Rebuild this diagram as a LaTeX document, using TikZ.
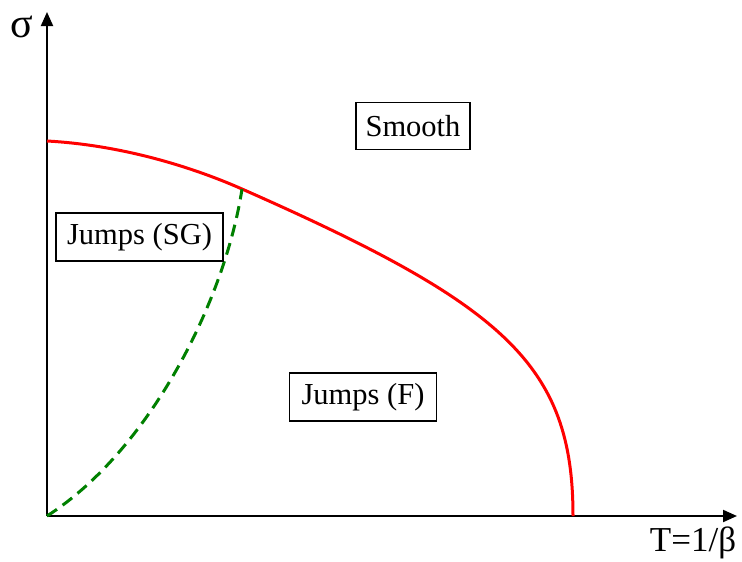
\documentclass[tikz,border=0pt]{standalone}
\usepackage{fontspec}
\setmainfont{Liberation Serif}
\usetikzlibrary{arrows.meta}
\begin{document}
\begin{tikzpicture}[x=1pt,y=-1pt,
  axis/.style={line width=2pt,-{Triangle[length=14pt,width=12pt]}},
  boxlabel/.style={draw,line width=1.2pt,inner sep=0pt,font=\fontsize{30.5}{34}\selectfont},
  axlabel/.style={inner sep=0pt,font=\fontsize{35}{38}\selectfont},
  redline/.style={red,line width=3pt},
  greenline/.style={green!50!black,line width=3pt,dash pattern=on 12pt off 7pt}]
\useasboundingbox (0,0) rectangle (742,562);
\coordinate (O) at (47,516);
\coordinate (ytip) at (47,12);
\coordinate (xtip) at (737,516);
\coordinate (r0) at (47,141);
\coordinate (r1) at (573,516);
\coordinate (meet) at (242,189);
\draw[axis] (O) -- (ytip);
\draw[axis] (O) -- (xtip);
\node[axlabel,font=\fontsize{42}{46}\selectfont] (sig) at (21.5,27) {σ};
\node[axlabel] (T) at (693,543) {T=1/β};
\draw[redline] (r0) .. controls (120,145) and (190,166) .. (meet)
  .. controls (505,305) and (573,365) .. (r1);
\draw[greenline] (O) .. controls (150,450) and (225,300) .. (meet);
\node[boxlabel,minimum width=114pt,minimum height=47pt] (smooth) at (413,126) {Smooth};
\node[boxlabel,minimum width=167pt,minimum height=48pt] (sg) at (139.5,237) {Jumps (SG)};
\node[boxlabel,minimum width=147pt,minimum height=48pt] (f) at (363,397) {Jumps (F)};
\end{tikzpicture}
\end{document}
